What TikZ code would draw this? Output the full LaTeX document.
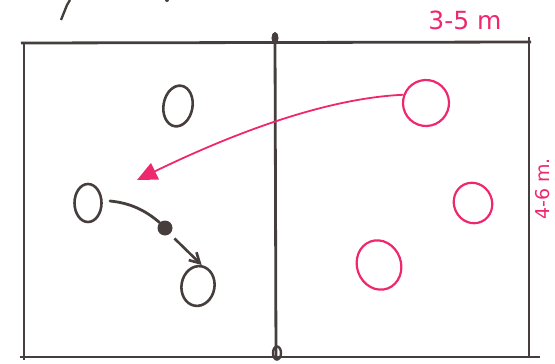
\documentclass[tikz,border=0pt]{standalone}
\usepackage{fontspec}
\setmainfont{DejaVu Sans}
\usetikzlibrary{shapes.geometric,arrows.meta}
\definecolor{ink}{RGB}{70,62,60}
\definecolor{pinkink}{RGB}{238,40,110}
\tikzset{
  field/.style={draw=ink,line width=2.8pt},
  blackplayer/.style={ellipse,draw=ink,line width=2.6pt,inner sep=0pt},
  pinkplayer/.style={ellipse,draw=pinkink,line width=2.2pt,inner sep=0pt},
  pinklabel/.style={text=pinkink,font=\fontsize{25}{27}\selectfont},
  sidelabel/.style={text=pinkink,font=\fontsize{19}{21}\selectfont,inner sep=0pt},
}
\begin{document}
\begin{tikzpicture}[x=1pt,y=-1pt]
\useasboundingbox (0,0) rectangle (555,364);
% field
\draw[field] (21,43) -- (531,42);
\draw[field] (20,357) -- (540,357);
\draw[field] (24,43) -- (24,360);
\draw[field] (529,37) -- (529,357);
\draw[field] (275,36) -- (276,360);
\node[draw=ink,fill=ink,line width=1pt,ellipse,minimum width=6pt,minimum height=11pt,inner sep=0pt] (topmark) at (275,38) {};
\node[draw=ink,line width=2.4pt,ellipse,minimum width=8pt,minimum height=13pt,inner sep=0pt] (botmark) at (277,353) {};
% stray pen marks
\draw[ink,line width=2.4pt] (61,20) -- (67,5) -- (70,0);
\fill[ink] (167,0) circle (2pt);
% black players
\node[blackplayer,minimum width=29pt,minimum height=41pt,rotate=-10] (b1) at (178,106) {};
\node[blackplayer,minimum width=27pt,minimum height=38pt] (b2) at (88,203) {};
\node[blackplayer,minimum width=33pt,minimum height=40pt,rotate=-10] (b3) at (198,286) {};
\node[circle,fill=ink,minimum size=15pt,inner sep=0pt] (ball) at (165,228) {};
\coordinate (pstart) at (110,201);
\draw[ink,line width=2.8pt,line cap=round] (pstart) .. controls (130,203) and (145,210) .. (ball.north west);
\draw[ink,line width=2.6pt,-{Straight Barb[length=10pt,width=11pt]}] (ball.south east)++(4,5) -- (b3.north);
% pink players
\node[pinkplayer,minimum width=46pt,minimum height=46pt,rotate=-20] (p1) at (426,103) {};
\node[pinkplayer,minimum width=38pt,minimum height=41pt,rotate=25] (p2) at (473,203) {};
\node[pinkplayer,minimum width=44pt,minimum height=50pt,rotate=20] (p3) at (379,265) {};
\coordinate (ptip) at (137,180);
\draw[pinkink,line width=1.8pt,-{Triangle[length=20pt,width=18pt]}] (p1.west) .. controls (330,98) and (240,130) .. (ptip);
% labels
\node[pinklabel] (w) at (465,20) {3-5 m};
\node[sidelabel,rotate=90] (h) at (543,189) {4-6 m.};
\end{tikzpicture}
\end{document}
